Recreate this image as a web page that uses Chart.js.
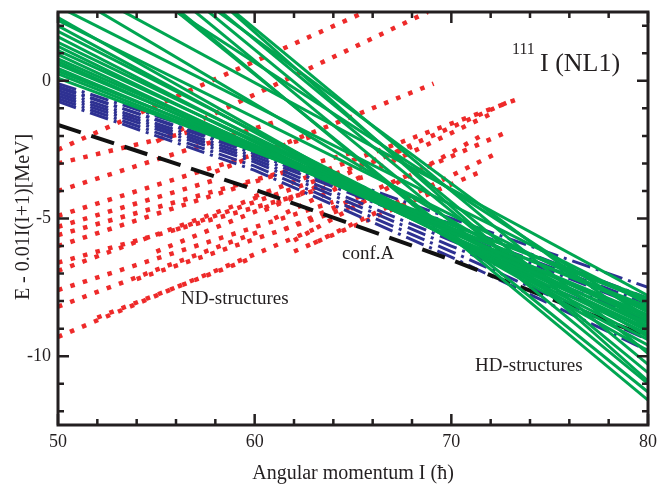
<!DOCTYPE html>
<html>
<head>
<meta charset="utf-8">
<script src="https://cdn.jsdelivr.net/npm/chart.js@4.4.0/dist/chart.umd.min.js"></script>
<style>
  html, body { margin: 0; padding: 0; background: #fff; }
  #wrap { width: 658px; height: 485px; }
</style>
</head>
<body>
<div id="wrap"><canvas id="levels" width="658" height="485"></canvas></div>
<script>
// axis ticks
const spinTicks = [50, 60, 70, 80];
const energyTicks = [0, -5, -10];

// HD bands (green): energy at I=50 and at I=80
const spinRange = [50, 80];
const hdStart = [0.1, 0.25, 0.35, 0.45, 0.6, 0.7, 0.8, 0.95, 1.1,
                 1.25, 1.4, 1.6, 1.8, 2.0, 2.2, 2.3, 2.7, 3.4, 3.8,
                 8.1, 7.8, 7.4, 7.0, 6.6, 6.2, 6.0, 5.3, 6.8];
const hdEnd   = [-7.9, -8.2, -8.0, -8.5, -8.3, -8.8, -8.6, -9.0, -8.7,
                 -9.2, -8.9, -9.4, -9.1, -9.6, -8.4, -9.8, -8.1, -9.3, -7.8,
                 -10.9, -9.9, -10.3, -10.6, -11.0, -11.6, -11.3, -8.6, -9.0];

// conf.A (black dashed)
const confASpins = [50, 60, 70, 80];
const confA = [-1.6, -3.95, -6.5, -9.3];

// blue dash-dot bands
const bandSpins = [50, 60, 70, 80];
const blueBands = [
  [-0.1, -2.45, -5.0, -7.5],
  [-0.2, -2.65, -5.4, -8.1],
  [-0.25, -2.55, -5.2, -7.9],
  [-0.35, -2.75, -5.5, -8.3],
  [-0.45, -2.85, -5.8, -8.7],
  [-0.55, -2.95, -6.0, -9.0],
  [-0.65, -3.1, -6.2, -9.4],
  [-0.75, -3.25, -6.4, -9.8]
];

// ND bands (red dotted): [I0, E0, I1, E1]
const ndBands = [
  [50, -2.5, 65.6, 2.5],
  [55, -2.2, 68.8, 2.5],
  [58, -3.3, 69.1, -0.1],
  [60, -4.2, 73.6, -0.6],
  [60.5, -4.7, 72.8, -0.8],
  [61, -5.0, 72.3, -1.1],
  [61.5, -5.4, 72.7, -1.9],
  [62, -5.8, 71.5, -2.0],
  [62, -6.2, 71.5, -3.3],
  [63, -5.9, 72.4, -2.6],
  [50, -9.3, 63, -5.4],
  [50, -8.2, 60.5, -5.4],
  [50, -7.6, 64, -4.4],
  [50, -6.9, 61, -4.0],
  [50, -6.6, 66, -3.4],
  [50, -6.0, 62, -3.2],
  [50, -5.6, 65, -2.6],
  [50, -5.3, 58, -3.6],
  [50, -4.9, 63, -2.0],
  [50, -4.0, 61, -1.5],
  [50, -3.0, 57, -1.8],
  [52, -8.6, 60, -6.4],
  [54, -7.2, 66, -4.3],
  [55, -6.2, 64, -3.6],
  [56, -5.4, 68, -2.4]
];

const GREEN = '#00a651', BLUE = '#2e3192', RED = '#ee2a2a', INK = '#231f20';
const SERIF = '"Liberation Serif", "DejaVu Serif", serif';

// first dataset is drawn on top, so green goes first
const datasets = [];
hdStart.forEach((e0, i) => datasets.push({
  data: [{x: spinRange[0], y: e0}, {x: spinRange[1], y: hdEnd[i]}],
  borderColor: GREEN, borderWidth: 3
}));
datasets.push({
  data: confASpins.map((s, i) => ({x: s, y: confA[i]})),
  borderColor: '#111', borderWidth: 4, borderDash: [24, 11]
});
blueBands.forEach(b => datasets.push({
  data: bandSpins.map((s, i) => ({x: s, y: b[i]})),
  borderColor: BLUE, borderWidth: 3, borderDash: [19, 6, 3, 6]
}));
ndBands.forEach(b => datasets.push({
  data: [{x: b[0], y: b[1]}, {x: b[2], y: b[3]}],
  borderColor: RED, borderWidth: 4.5, borderDash: [4.5, 8.5]
}));

// frame, inward ticks, axis titles and labels
const framePlugin = {
  id: 'frame',
  afterDatasetsDraw(chart) {
    const {ctx, chartArea: a, scales: {x, y}} = chart;
    ctx.save();
    ctx.strokeStyle = INK;
    ctx.lineWidth = 3;
    ctx.strokeRect(a.left, a.top, a.right - a.left, a.bottom - a.top);
    ctx.lineWidth = 2.5;
    ctx.beginPath();
    for (let s = 50; s <= 80; s += 2) {
      const px = x.getPixelForValue(s);
      const len = s % 10 === 0 ? 11 : 6;
      ctx.moveTo(px, a.bottom); ctx.lineTo(px, a.bottom - len);
      ctx.moveTo(px, a.top); ctx.lineTo(px, a.top + len);
    }
    for (let e = -12; e <= 2; e++) {
      const py = y.getPixelForValue(e);
      const len = e % 5 === 0 ? 11 : 6;
      ctx.moveTo(a.left, py); ctx.lineTo(a.left + len, py);
      ctx.moveTo(a.right, py); ctx.lineTo(a.right - len, py);
    }
    ctx.stroke();

    ctx.fillStyle = INK;
    ctx.textBaseline = 'alphabetic';
    ctx.font = '20px ' + SERIF;
    ctx.textAlign = 'center';
    ctx.fillText('Angular momentum I (\u0127)', 353, 479);
    ctx.save();
    ctx.translate(29, 217);
    ctx.rotate(-Math.PI / 2);
    ctx.fillText('E - 0.01I(I+1)[MeV]', 0, 0);
    ctx.restore();

    ctx.textAlign = 'left';
    ctx.font = '19px ' + SERIF;
    ctx.fillText('conf.A', 342, 259);
    ctx.fillText('ND-structures', 181, 304);
    ctx.fillText('HD-structures', 475, 371);
    ctx.font = '16px ' + SERIF;
    ctx.fillText('111', 512, 54);
    ctx.font = '26px ' + SERIF;
    ctx.fillText('I (NL1)', 540, 71);
    ctx.restore();
  }
};

new Chart(document.getElementById('levels'), {
  type: 'line',
  data: { datasets },
  options: {
    responsive: false,
    devicePixelRatio: 1,
    animation: false,
    layout: { padding: { top: 12, right: 10, left: 0, bottom: 0 } },
    elements: { point: { radius: 0 }, line: { tension: 0, fill: false } },
    plugins: { legend: { display: false }, tooltip: { enabled: false } },
    scales: {
      x: {
        type: 'linear', min: 50, max: 80,
        grid: { display: false, drawTicks: false },
        border: { display: false },
        afterBuildTicks: s => { s.ticks = spinTicks.map(v => ({value: v})); },
        afterFit: s => { s.height = 60; s.paddingLeft = 0; s.paddingRight = 0; },
        ticks: { color: INK, padding: 6, font: { family: SERIF, size: 18 } }
      },
      y: {
        type: 'linear', min: -12.5, max: 2.5,
        grid: { display: false, drawTicks: false },
        border: { display: false },
        afterBuildTicks: s => { s.ticks = energyTicks.map(v => ({value: v})); },
        afterFit: s => { s.width = 58; s.paddingTop = 0; s.paddingBottom = 0; },
        ticks: { color: INK, padding: 7, font: { family: SERIF, size: 18 } }
      }
    }
  },
  plugins: [framePlugin]
});
</script>
</body>
</html>
